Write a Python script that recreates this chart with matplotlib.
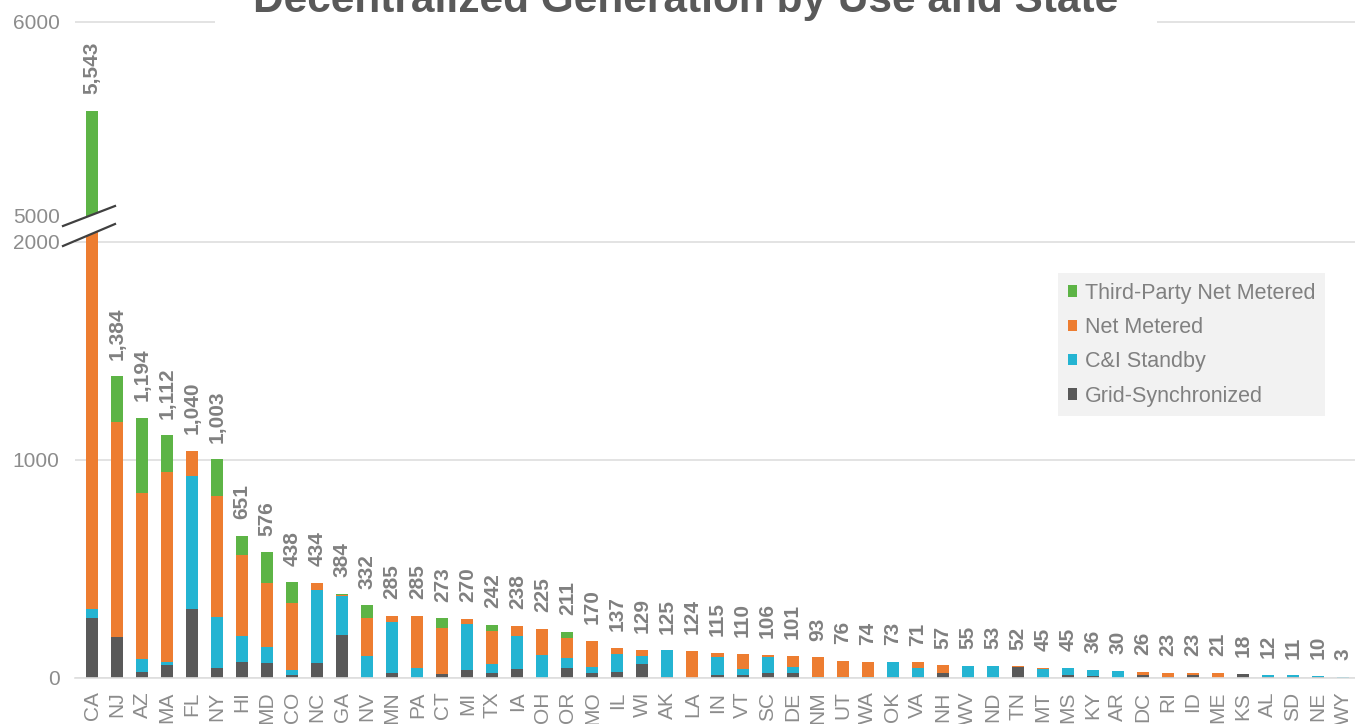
"""Decentralized generation by use and state: stacked bars with a broken y-axis."""

import matplotlib

matplotlib.use("Agg")
import matplotlib.pyplot as plt
import numpy as np
from matplotlib.lines import Line2D
from matplotlib.patches import Patch, Polygon

plt.rcParams["font.family"] = ["Liberation Sans", "DejaVu Sans"]

states = [
    "CA", "NJ", "AZ", "MA", "FL", "NY", "HI", "MD", "CO", "NC", "GA", "NV", "MN",
    "PA", "CT", "MI", "TX", "IA", "OH", "OR", "MO", "IL", "WI", "AK", "LA", "IN",
    "VT", "SC", "DE", "NM", "UT", "WA", "OK", "VA", "NH", "WV", "ND", "TN", "MT",
    "MS", "KY", "AR", "DC", "RI", "ID", "ME", "KS", "AL", "SD", "NE", "WY",
]
totals = [
    5543, 1384, 1194, 1112, 1040, 1003, 651, 576, 438, 434, 384, 332, 285,
    285, 273, 270, 242, 238, 225, 211, 170, 137, 129, 125, 124, 115,
    110, 106, 101, 93, 76, 74, 73, 71, 57, 55, 53, 52, 45,
    45, 36, 30, 26, 23, 23, 21, 18, 12, 11, 10, 3,
]
grid_synchronized = [
    272, 188, 25, 57, 317, 46, 73, 66, 12, 69, 196, 0, 20,
    0, 15, 35, 20, 40, 0, 46, 20, 25, 63, 5, 0, 14,
    12, 23, 23, 0, 0, 0, 5, 5, 22, 0, 0, 50, 0,
    12, 6, 0, 12, 3, 11, 0, 18, 4, 5, 4, 0,
]
ci_standby = [
    42, 0, 61, 15, 608, 231, 120, 76, 23, 333, 179, 100, 234,
    46, 0, 210, 43, 151, 104, 46, 30, 84, 37, 120, 0, 82,
    28, 73, 27, 2, 4, 4, 68, 39, 0, 55, 53, 0, 42,
    33, 30, 30, 0, 0, 0, 0, 0, 8, 6, 6, 3,
]
net_metered = [
    4686, 986, 764, 873, 115, 558, 370, 294, 306, 32, 3, 172, 31,
    235, 211, 25, 153, 47, 121, 89, 120, 28, 29, 0, 124, 19,
    70, 10, 51, 91, 72, 70, 0, 27, 35, 0, 0, 2, 3,
    0, 0, 0, 14, 20, 12, 21, 0, 0, 0, 0, 0,
]
third_party_net_metered = [
    543, 210, 344, 167, 0, 168, 88, 140, 97, 0, 6, 60, 0,
    4, 47, 0, 26, 0, 0, 30, 0, 0, 0, 0, 0, 0,
    0, 0, 0, 0, 0, 0, 0, 0, 0, 0, 0, 0, 0,
    0, 0, 0, 0, 0, 0, 0, 0, 0, 0, 0, 0,
]

series = [
    ("Grid-Synchronized", grid_synchronized, "#595959"),
    ("C&I Standby", ci_standby, "#24B4D2"),
    ("Net Metered", net_metered, "#ED7D31"),
    ("Third-Party Net Metered", third_party_net_metered, "#5DB446"),
]

TICK_GREY = "#8C8C8C"
LABEL_GREY = "#808080"
GRID_GREY = "#DEDEDE"

W, H = 1355, 724


def fx(px):
    return px / W


def fy(py):
    return 1 - py / H


fig = plt.figure(figsize=(W / 100, H / 100), dpi=100)

# lower part 0..2000 (0 at y=677.7px, 2000 at y=242px), upper part 5000..6000
ax_low = fig.add_axes([fx(75), fy(677.7), fx(1280), (677.7 - 232) / H])
ax_top = fig.add_axes([fx(75), fy(232), fx(1280), 232 / H])

x = np.arange(len(states))
bar_width = 0.48

for ax in (ax_low, ax_top):
    bottom = np.zeros(len(states))
    for name, values, color in series:
        ax.bar(x, values, bar_width, bottom=bottom, color=color, label=name, zorder=2)
        bottom += np.array(values)
    ax.set_xlim(-0.68, 50.48)
    for side in ("top", "right", "left"):
        ax.spines[side].set_visible(False)
    ax.tick_params(axis="y", length=0, labelsize=15, labelcolor=TICK_GREY, pad=11)

ax_low.set_ylim(0, 445.7 / 0.21785)
ax_low.set_yticks([0, 1000, 2000])
ax_low.yaxis.grid(True, color=GRID_GREY, linewidth=1.2, zorder=0)
ax_low.set_axisbelow(True)
ax_low.spines["bottom"].set_color(GRID_GREY)
ax_low.spines["bottom"].set_linewidth(1.2)
ax_low.set_xticks(x)
ax_low.set_xticklabels(states, rotation=90, fontsize=15, color=TICK_GREY)
ax_low.tick_params(axis="x", length=0, pad=10)

ax_top.set_ylim(5000 - 16 / 0.194, 6000 + 22 / 0.194)
ax_top.set_yticks([5000, 6000])
ax_top.axhline(6000, color=GRID_GREY, linewidth=1.2, zorder=0)
ax_top.spines["bottom"].set_visible(False)
ax_top.set_xticks([])
ax_top.patch.set_alpha(0)

for i, total in enumerate(totals):
    ax = ax_top if total > 2000 else ax_low
    ax.annotate(
        f"{total:,}",
        (x[i], total),
        xytext=(0, 12),
        textcoords="offset points",
        rotation=90,
        ha="center",
        va="bottom",
        fontsize=15,
        fontweight="bold",
        color=LABEL_GREY,
        annotation_clip=False,
    )

# axis break marks
gap = Polygon(
    [(fx(63), fy(226)), (fx(115), fy(206)), (fx(115), fy(224)), (fx(63), fy(246))],
    closed=True,
    facecolor="white",
    edgecolor="none",
    transform=fig.transFigure,
    zorder=5,
)
fig.add_artist(gap)
for y0, y1 in ((226, 206), (246, 224)):
    fig.add_artist(
        Line2D(
            [fx(63), fx(115)],
            [fy(y0), fy(y1)],
            color="#404040",
            linewidth=1.6,
            transform=fig.transFigure,
            zorder=6,
        )
    )

fig.text(
    fx(686),
    fy(12),
    "Decentralized Generation by Use and State",
    ha="center",
    va="baseline",
    fontsize=30.5,
    fontweight="bold",
    color="#595959",
    bbox=dict(boxstyle="square,pad=0.9", facecolor="white", edgecolor="none"),
    zorder=7,
)

handles = [Patch(facecolor=color, label=name) for name, _, color in reversed(series)]
legend = fig.legend(
    handles=handles,
    loc="upper left",
    bbox_to_anchor=(fx(1058), fy(273)),
    fontsize=15.5,
    frameon=True,
    fancybox=False,
    facecolor="#F2F2F2",
    edgecolor="none",
    framealpha=1,
    handlelength=0.45,
    handleheight=0.45,
    handletextpad=0.35,
    labelspacing=0.62,
    borderpad=0.45,
    borderaxespad=0,
)
for text in legend.get_texts():
    text.set_color(LABEL_GREY)

fig.savefig("out.png", dpi=100)
